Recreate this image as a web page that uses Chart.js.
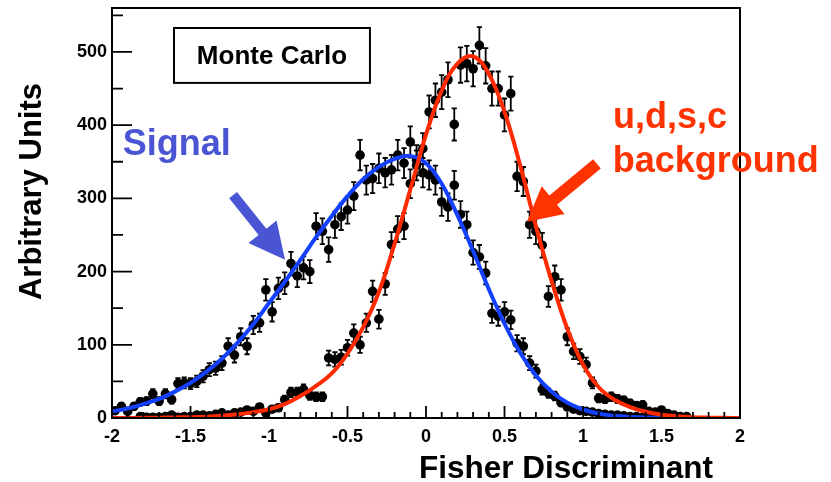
<!DOCTYPE html>
<html>
<head>
<meta charset="utf-8">
<title>Fisher Discriminant – Monte Carlo</title>
<script src="https://cdn.jsdelivr.net/npm/chart.js@4"></script>
<style>
  html, body { margin: 0; padding: 0; background: #ffffff; }
  #wrap { width: 831px; height: 482px; }
</style>
</head>
<body>
<div id="wrap"><canvas id="chart" width="831" height="482"></canvas></div>
<script>
// Histogram binning: 100 bins on [-2, 2]
const BIN_LOW = -2;
const BIN_HIGH = 2;
const N_BINS = 100;

// Signal Monte Carlo, bin contents and errors (null = empty bin)
const signalCounts = [
  10, 16, 9, 16, 22, 23, 33, 23, 33, 25,
  47, 48, 47, 50, 57, 66, 68, 75, 98, 86,
  111, 98, 127, 130, 175, 145, 177, 184, 211, 194,
  205, 200, 262, 255, 230, 264, 275, 284, 303, 359,
  325, 327, 341, 335, 339, 359, 348, 377, 345, 335,
  332, 325, 295, 288, 318, 278, 264, 226, 220, 198,
  143, 139, 145, 134, 102, 98, 75, 64, 39, 34,
  30, 21, 15, 12, 10, 9, 8, 6, 5, 4,
  4, 3, 2, 2, 1, 1, null, null, null, null,
  null, null, null, null, null, null, null, null, null, null
];
const signalErrors = [
  3.5, 4.4, 3.3, 4.4, 5.2, 5.3, 6.3, 5.3, 6.3, 5.5,
  7.5, 7.6, 7.5, 7.8, 8.3, 8.9, 9.1, 9.5, 10.9, 10.2,
  11.6, 10.9, 12.4, 12.5, 14.6, 13.2, 14.6, 14.9, 16.0, 15.3,
  15.7, 15.6, 17.8, 17.6, 16.7, 17.9, 18.2, 18.5, 19.1, 20.8,
  19.8, 19.9, 20.3, 20.1, 20.3, 20.8, 20.5, 21.4, 20.4, 20.1,
  20.0, 19.8, 18.9, 18.7, 19.6, 18.3, 17.9, 16.5, 16.3, 15.5,
  13.2, 13.0, 13.2, 12.7, 11.1, 10.9, 9.5, 8.8, 6.9, 6.4,
  6.0, 5.0, 4.3, 3.8, 3.5, 3.3, 3.1, 2.7, 2.5, 2.2,
  2.2, 1.9, 1.6, 1.6, 1.1, 1.1, null, null, null, null,
  null, null, null, null, null, null, null, null, null, null
];

// u,d,s,c background Monte Carlo, bin contents and errors
const backgroundCounts = [
  null, null, null, null, 2, 1, 1, 1, 2, 4,
  1, 2, 2, 4, 4, 3, 5, 7, 4, 7,
  8, 11, 9, 15, 7, 12, 14, 25, 35, 35,
  39, 31, 29, 29, 82, 80, 83, 96, 116, 100,
  130, 173, 135, 183, 237, 258, 262, 320, 352, 368,
  418, 434, 445, 462, 401, 482, 484, 477, 509, 481,
  450, 450, 414, 443, 330, 323, 264, 255, 236, 166,
  193, 175, 111, 91, 84, 73, 48, 27, 26, 29,
  26, 24, 20, 17, 18, 9, 8, 11, 6, 4,
  2, 2, null, null, null, null, null, null, null, null
];
const backgroundErrors = [
  null, null, null, null, 1.6, 1.1, 1.1, 1.1, 1.6, 2.2,
  1.1, 1.6, 1.6, 2.2, 2.2, 1.9, 2.5, 2.9, 2.2, 2.9,
  3.1, 3.6, 3.3, 4.3, 2.9, 3.8, 4.1, 5.5, 6.5, 6.5,
  6.9, 6.1, 5.9, 5.9, 10.0, 9.8, 10.0, 10.8, 11.8, 11.0,
  12.5, 14.5, 12.8, 14.9, 16.9, 17.7, 17.8, 19.7, 20.6, 21.1,
  22.5, 22.9, 23.2, 23.6, 22.0, 24.1, 24.2, 24.0, 24.8, 24.1,
  23.3, 23.3, 22.4, 23.2, 20.0, 19.8, 17.9, 17.6, 16.9, 14.2,
  15.3, 14.6, 11.6, 10.5, 10.1, 9.4, 7.6, 5.7, 5.6, 5.9,
  5.6, 5.4, 4.9, 4.5, 4.7, 3.3, 3.1, 3.6, 2.7, 2.2,
  1.6, 1.6, null, null, null, null, null, null, null, null
];

// Fitted shapes, sampled every 0.1 in the discriminant
const fitX = [
  -2.0, -1.9, -1.8, -1.7, -1.6, -1.5, -1.4, -1.3, -1.2, -1.1,
  -1.0, -0.9, -0.8, -0.7, -0.6, -0.5, -0.4, -0.3, -0.2, -0.1,
  0.0, 0.1, 0.2, 0.3, 0.4, 0.5, 0.6, 0.7, 0.8, 0.9,
  1.0, 1.1, 1.2, 1.3, 1.4, 1.5, 1.6, 1.7, 1.8, 1.9, 2.0
];
const signalFit = [
  9, 13, 19, 26, 36, 48, 63, 81, 103, 128,
  157, 186, 216, 247, 276, 303, 326, 343, 354, 358,
  348, 320, 277, 228, 176, 129, 89, 58, 36, 21,
  11.6, 6, 3, 1.4, 0.6, 0.3, 0.1, 0, 0, 0, 0
];
const backgroundFit = [
  0, 0.1, 0.2, 0.4, 0.7, 1.1, 1.8, 3, 5, 8,
  12, 19, 30, 44, 61, 88, 124, 172, 238, 312,
  387, 447, 484, 494, 470, 418, 345, 262, 187, 122,
  73, 42, 25, 15, 8.5, 4.5, 2.3, 1.1, 0.5, 0.2, 0.1
];

// Axis ticks
const xTickValues = [-2, -1.5, -1, -0.5, 0, 0.5, 1, 1.5, 2];
const yTickValues = [0, 100, 200, 300, 400, 500];

// Text labels
const xTitle = 'Fisher Discriminant';
const yTitle = 'Arbitrary Units';
const boxLabel = 'Monte Carlo';
const signalLabel = 'Signal';
const backgroundLabel = ['u,d,s,c', 'background'];

const FONT = '"Liberation Sans", Arial, Helvetica, sans-serif';
const SIGNAL_NOTE = '#4a55d4';
const BACKGROUND_NOTE = '#ff3300';
const SIGNAL_CURVE = '#1440ff';
const BACKGROUND_CURVE = '#ff2a00';

function binCenter(i) {
  const w = (BIN_HIGH - BIN_LOW) / N_BINS;
  return BIN_LOW + (i + 0.5) * w;
}

function histPoints(counts, errors) {
  const pts = [];
  counts.forEach((v, i) => {
    if (v === null) return;
    pts.push({ x: binCenter(i), y: v, err: errors[i] });
  });
  return pts;
}

function curvePoints(ys) {
  return fitX.map((x, i) => ({ x: x, y: ys[i] }));
}

// Error bars under the markers, ticks, frame, titles and notes on top
const rootStyle = {
  id: 'rootStyle',
  beforeDatasetsDraw(chart) {
    const ctx = chart.ctx;
    const ys = chart.scales.y;
    ctx.save();
    ctx.strokeStyle = '#000';
    ctx.lineWidth = 1.8;
    chart.data.datasets.forEach((ds, di) => {
      if (!ds.isHistogram) return;
      const meta = chart.getDatasetMeta(di);
      meta.data.forEach((el, j) => {
        const p = ds.data[j];
        if (!p.err) return;
        const top = ys.getPixelForValue(p.y + p.err);
        const bot = ys.getPixelForValue(Math.max(0, p.y - p.err));
        ctx.beginPath();
        ctx.moveTo(el.x, top); ctx.lineTo(el.x, bot);
        ctx.moveTo(el.x - 2.6, top); ctx.lineTo(el.x + 2.6, top);
        ctx.moveTo(el.x - 2.6, bot); ctx.lineTo(el.x + 2.6, bot);
        ctx.stroke();
      });
    });
    ctx.restore();
  },
  afterDraw(chart) {
    const ctx = chart.ctx;
    const a = chart.chartArea;
    const xs = chart.scales.x;
    const ys = chart.scales.y;
    ctx.save();

    // inward ticks
    ctx.strokeStyle = '#000';
    ctx.lineWidth = 1.8;
    ctx.beginPath();
    for (let k = 0; k <= 40; k++) {
      const v = BIN_LOW + k * 0.1;
      const px = xs.getPixelForValue(v);
      const len = (k % 5 === 0) ? 12 : 6;
      ctx.moveTo(px, a.bottom); ctx.lineTo(px, a.bottom - len);
    }
    for (let v = 0; v <= ys.max; v += 50) {
      const py = ys.getPixelForValue(v);
      const len = (v % 100 === 0) ? 20 : 11;
      ctx.moveTo(a.left, py); ctx.lineTo(a.left + len, py);
    }
    ctx.stroke();

    // frame
    ctx.lineWidth = 2;
    ctx.strokeRect(a.left, a.top, a.right - a.left, a.bottom - a.top);

    // axis titles
    ctx.fillStyle = '#000';
    ctx.font = 'bold 31.5px ' + FONT;
    ctx.textAlign = 'right';
    ctx.textBaseline = 'alphabetic';
    ctx.fillText(xTitle, 713, 478);
    ctx.font = 'bold 31px ' + FONT;
    ctx.save();
    ctx.translate(41, 83);
    ctx.rotate(-Math.PI / 2);
    ctx.fillText(yTitle, 0, 0);
    ctx.restore();

    // Monte Carlo box
    const bx0 = xs.getPixelForValue(-1.605), bx1 = xs.getPixelForValue(-0.357);
    const by0 = ys.getPixelForValue(532.7), by1 = ys.getPixelForValue(457.7);
    ctx.fillStyle = '#fff';
    ctx.fillRect(bx0, by0, bx1 - bx0, by1 - by0);
    ctx.lineWidth = 2;
    ctx.strokeRect(bx0, by0, bx1 - bx0, by1 - by0);
    ctx.fillStyle = '#000';
    ctx.font = 'bold 26px ' + FONT;
    ctx.textAlign = 'center';
    ctx.textBaseline = 'middle';
    ctx.fillText(boxLabel, (bx0 + bx1) / 2, (by0 + by1) / 2 + 1);

    // notes
    ctx.textAlign = 'left';
    ctx.textBaseline = 'alphabetic';
    ctx.font = 'bold 36px ' + FONT;
    ctx.fillStyle = SIGNAL_NOTE;
    ctx.fillText(signalLabel, xs.getPixelForValue(-1.932), ys.getPixelForValue(359));
    ctx.fillStyle = BACKGROUND_NOTE;
    ctx.fillText(backgroundLabel[0], xs.getPixelForValue(1.191), ys.getPixelForValue(396));
    ctx.fillText(backgroundLabel[1], xs.getPixelForValue(1.189), ys.getPixelForValue(336));

    drawArrow(ctx, xs.getPixelForValue(-1.229), ys.getPixelForValue(304.5),
              xs.getPixelForValue(-0.898), ys.getPixelForValue(216), 10, 36, 36, SIGNAL_NOTE);
    drawArrow(ctx, xs.getPixelForValue(1.089), ys.getPixelForValue(347),
              xs.getPixelForValue(0.643), ys.getPixelForValue(268), 12, 34, 36, BACKGROUND_NOTE);
    ctx.restore();
  }
};

function drawArrow(ctx, x0, y0, x1, y1, shaft, headLen, headWidth, color) {
  const dx = x1 - x0, dy = y1 - y0;
  const L = Math.hypot(dx, dy);
  const ux = dx / L, uy = dy / L;
  const nx = -uy, ny = ux;
  const bx = x1 - ux * headLen, by = y1 - uy * headLen;
  ctx.fillStyle = color;
  ctx.beginPath();
  ctx.moveTo(x0 + nx * shaft / 2, y0 + ny * shaft / 2);
  ctx.lineTo(bx + nx * shaft / 2, by + ny * shaft / 2);
  ctx.lineTo(bx + nx * headWidth / 2, by + ny * headWidth / 2);
  ctx.lineTo(x1, y1);
  ctx.lineTo(bx - nx * headWidth / 2, by - ny * headWidth / 2);
  ctx.lineTo(bx - nx * shaft / 2, by - ny * shaft / 2);
  ctx.lineTo(x0 - nx * shaft / 2, y0 - ny * shaft / 2);
  ctx.closePath();
  ctx.fill();
}

const tickFont = { family: FONT, size: 18, weight: 'bold' };

new Chart(document.getElementById('chart'), {
  type: 'scatter',
  data: {
    datasets: [
      {
        label: 'u,d,s,c background fit',
        data: curvePoints(backgroundFit),
        showLine: true, pointRadius: 0, borderColor: BACKGROUND_CURVE,
        borderWidth: 4, tension: 0.4, order: 0
      },
      {
        label: 'Signal fit',
        data: curvePoints(signalFit),
        showLine: true, pointRadius: 0, borderColor: SIGNAL_CURVE,
        borderWidth: 4, tension: 0.4, order: 1
      },
      {
        label: 'Signal MC',
        data: histPoints(signalCounts, signalErrors),
        isHistogram: true,
        pointRadius: 4.8, pointBackgroundColor: '#000', pointBorderWidth: 0,
        order: 2
      },
      {
        label: 'Background MC',
        data: histPoints(backgroundCounts, backgroundErrors),
        isHistogram: true,
        pointRadius: 4.8, pointBackgroundColor: '#000', pointBorderWidth: 0,
        order: 3
      }
    ]
  },
  options: {
    responsive: false,
    animation: false,
    events: [],
    layout: { padding: { left: 0, right: 91, top: 8, bottom: 0 } },
    plugins: { legend: { display: false }, tooltip: { enabled: false } },
    scales: {
      x: {
        type: 'linear', min: BIN_LOW, max: BIN_HIGH,
        grid: { display: false, drawTicks: false },
        border: { display: false },
        afterFit(scale) {
          scale.height = 64;
          scale.paddingLeft = 0; scale.paddingRight = 0;
        },
        afterBuildTicks(scale) { scale.ticks = xTickValues.map(v => ({ value: v })); },
        ticks: { font: tickFont, color: '#000', padding: 8, maxRotation: 0, autoSkip: false,
                 callback: v => String(v) }
      },
      y: {
        type: 'linear', min: 0, max: 560,
        grid: { display: false, drawTicks: false },
        border: { display: false },
        afterFit(scale) {
          scale.width = 112;
          scale.paddingTop = 0; scale.paddingBottom = 0;
        },
        afterBuildTicks(scale) { scale.ticks = yTickValues.map(v => ({ value: v })); },
        ticks: { font: tickFont, color: '#000', padding: 5, callback: v => String(v) }
      }
    }
  },
  plugins: [rootStyle]
});
</script>
</body>
</html>
